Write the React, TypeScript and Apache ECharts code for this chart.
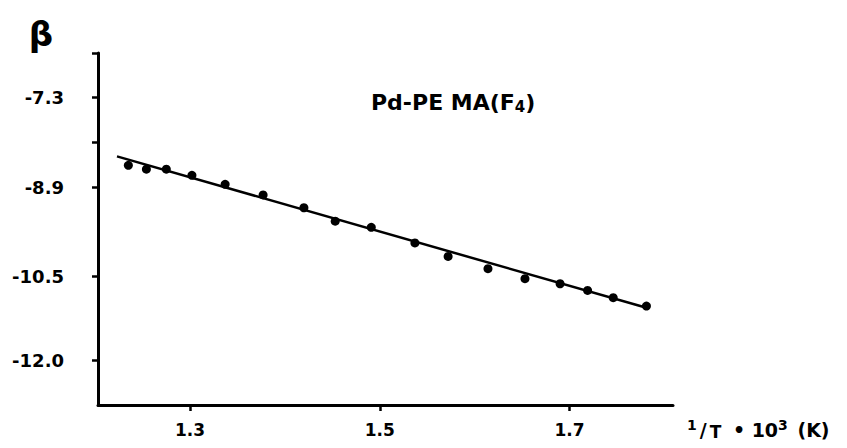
import React, { useEffect, useRef } from "react";
import * as echarts from "echarts";

// Measured points: 1/T·10^3 (K) and β
const invT = [1.235, 1.254, 1.275, 1.302, 1.337, 1.377, 1.42, 1.453, 1.491, 1.537, 1.572, 1.614, 1.653, 1.69, 1.719, 1.746, 1.781];
const beta = [-8.51, -8.58, -8.58, -8.69, -8.85, -9.04, -9.27, -9.51, -9.62, -9.9, -10.14, -10.36, -10.54, -10.63, -10.75, -10.88, -11.03];

// Fitted straight line
const fitInvT = [1.223, 1.781];
const fitBeta = [-8.35, -11.06];

// Axis ticks / labels
const xTicks = [1.3, 1.5, 1.7];
const yLabelTicks = [-12.0, -10.5, -8.9, -7.3];
const yTickMarks = [-12.0, -10.5, -8.9, -8.1, -7.3, -6.5];

const FONT = "DejaVu Sans";

export default function App() {
  const ref = useRef<HTMLDivElement>(null);
  useEffect(() => {
    if (!ref.current) return;
    const chart = echarts.init(ref.current, null, { renderer: "svg" });
    const points = invT.map((x, i) => [x, beta[i]]);
    const fit = fitInvT.map((x, i) => [x, fitBeta[i]]);
    chart.setOption({
      animation: false,
      backgroundColor: "#ffffff",
      title: {
        text: "Pd-PE MA(F{s|4})",
        left: 366,
        top: 86,
        textStyle: {
          fontFamily: FONT,
          fontWeight: "bold",
          fontSize: 22,
          color: "#000",
          rich: {
            s: { fontFamily: FONT, fontWeight: "bold", fontSize: 15, color: "#000", padding: [8, 0, 0, 0] },
          },
        },
      },
      grid: { left: 98, top: 53, width: 575, height: 352 },
      xAxis: {
        type: "value",
        min: 1.203,
        max: 1.809,
        name: "{a|1}/{b|T} • 10{a|3} (K)",
        nameLocation: "end",
        nameGap: 14,
        nameTextStyle: {
          fontFamily: FONT,
          fontWeight: "bold",
          fontSize: 19,
          color: "#000",
          verticalAlign: "top",
          padding: [13, 0, 0, 0],
          rich: {
            a: { fontFamily: FONT, fontWeight: "bold", fontSize: 14, color: "#000", padding: [0, 3, 9, 0] },
            b: { fontFamily: FONT, fontWeight: "bold", fontSize: 17, color: "#000", padding: [5, 5, 0, 3] },
          },
        },
        splitLine: { show: false },
        axisLine: { show: true, onZero: false, lineStyle: { color: "#000", width: 3 } },
        axisTick: { show: true, customValues: xTicks, length: 6, lineStyle: { color: "#000", width: 2.5 } },
        axisLabel: {
          customValues: xTicks,
          margin: 16,
          fontFamily: FONT,
          fontWeight: "bold",
          fontSize: 17,
          color: "#000",
          formatter: (v: number) => v.toFixed(1),
        },
      },
      yAxis: {
        type: "value",
        min: -12.8,
        max: -6.5,
        name: "β",
        nameLocation: "end",
        nameGap: 2,
        nameTextStyle: {
          fontFamily: FONT,
          fontWeight: "bold",
          fontSize: 34,
          color: "#000",
          align: "right",
          verticalAlign: "bottom",
          padding: [0, 45, 0, 0],
        },
        splitLine: { show: false },
        axisLine: { show: true, onZero: false, lineStyle: { color: "#000", width: 3 } },
        axisTick: { show: true, customValues: yTickMarks, length: 6, lineStyle: { color: "#000", width: 2.5 } },
        axisLabel: {
          customValues: yLabelTicks,
          margin: 34,
          fontFamily: FONT,
          fontWeight: "bold",
          fontSize: 18,
          color: "#000",
          formatter: (v: number) => v.toFixed(1),
        },
      },
      series: [
        {
          name: "fit",
          type: "line",
          data: fit,
          showSymbol: false,
          lineStyle: { color: "#000", width: 2.5 },
          z: 2,
        },
        {
          name: "β",
          type: "scatter",
          data: points,
          symbol: "circle",
          symbolSize: 9,
          itemStyle: { color: "#000", opacity: 1 },
          z: 3,
        },
      ],
    });
    return () => chart.dispose();
  }, []);
  return (
    <div
      ref={ref}
      style={{ position: "fixed", left: 0, top: 0, width: 847, height: 448, background: "#fff" }}
    />
  );
}
